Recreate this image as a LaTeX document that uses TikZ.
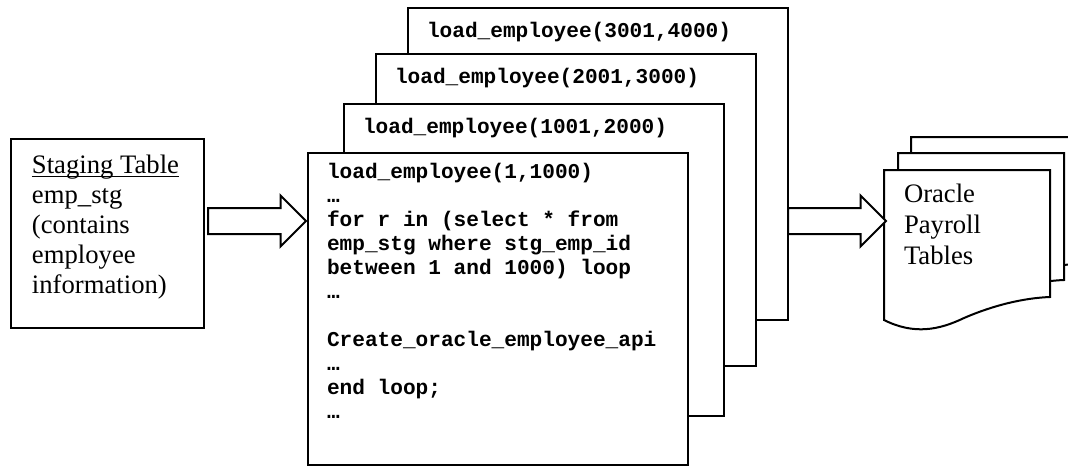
\documentclass[tikz,border=0pt]{standalone}
\usepackage{fontspec}
\setmainfont{Liberation Serif}
\setmonofont{Liberation Mono}
\usepackage{tikz}
\usetikzlibrary{shapes.arrows}
\newcommand\docsheet[2]{%
  \coordinate (#1) at #2;
  \begin{scope}[shift={#2}]
    \draw[sheet] (0,0) -- (166,0) -- (166,127)
      .. controls (140,128) and (110,135) .. (80,148)
      .. controls (55,160) and (30,165) .. (0,150) -- cycle;
  \end{scope}}
\newcommand\ulword[1]{\underline{\smash{#1}}}

\begin{document}
\begin{tikzpicture}[x=0.45pt,y=-0.45pt,line width=0.9pt]
    \tikzstyle{box}=[draw=black, fill=white, inner sep=0, anchor=north west]
    \tikzstyle{codebox}=[style=box, minimum width=171pt, minimum height=140.5pt]
    \tikzstyle{codetext}=[inner sep=0, anchor=north west, align=left, font=\fontsize{9.5}{10.8}\selectfont\ttfamily\bfseries]
    \tikzstyle{prose}=[inner sep=0, anchor=north west, align=left, font=\fontsize{12}{13.5}\selectfont]
    \tikzstyle{sheet}=[draw=black, fill=white]
    \tikzstyle{blockarrow}=[draw=black, fill=white, single arrow, anchor=tail, inner xsep=0, inner ysep=5.4pt, minimum height=44.1pt, minimum width=22pt, single arrow head extend=5.6pt]

    \clip (0,0) rectangle (1068,465);

    \node[box, minimum width=86.85pt, minimum height=85pt] (stg) at (10,138) {};
    \node[prose] (stgtext) at ([shift={(21,34)}]stg.north west)
      {\ulword{Staging Table}\\emp\_stg\\(contains\\employee\\information)};

    \node[codebox] (load4) at (407,7) {};
    \node[codetext] (title4) at ([shift={(19,14)}]load4.north west) {load\_employee(3001,4000)};
    \node[codebox] (load3) at (375,53) {};
    \node[codetext] (title3) at ([shift={(19,14)}]load3.north west) {load\_employee(2001,3000)};
    \node[codebox] (load2) at (343,103) {};
    \node[codetext] (title2) at ([shift={(19,14)}]load2.north west) {load\_employee(1001,2000)};
    \node[codebox] (load1) at (307,152) {};
    \node[codetext] (body1) at ([shift={(19,10)}]load1.north west)
      {load\_employee(1,1000)\\
       …\\
       for r in (select * from\\
       emp\_stg where stg\_emp\_id\\
       between 1 and 1000) loop\\
       …\\[10.8pt]
       Create\_oracle\_employee\_api\\
       …\\
       end loop;\\
       …};

    \docsheet{doc3}{(911,137)}
    \docsheet{doc2}{(898,153)}
    \docsheet{doc1}{(884,170)}
    \node[prose, font=\fontsize{12}{14}\selectfont] (payroll) at ([shift={(19,13)}]doc1)
      {Oracle\\Payroll\\Tables};

    \node[blockarrow] (arr1) at (207,221) {};
    \node[blockarrow] (arr2) at (787,221) {};
\end{tikzpicture}
\end{document}
